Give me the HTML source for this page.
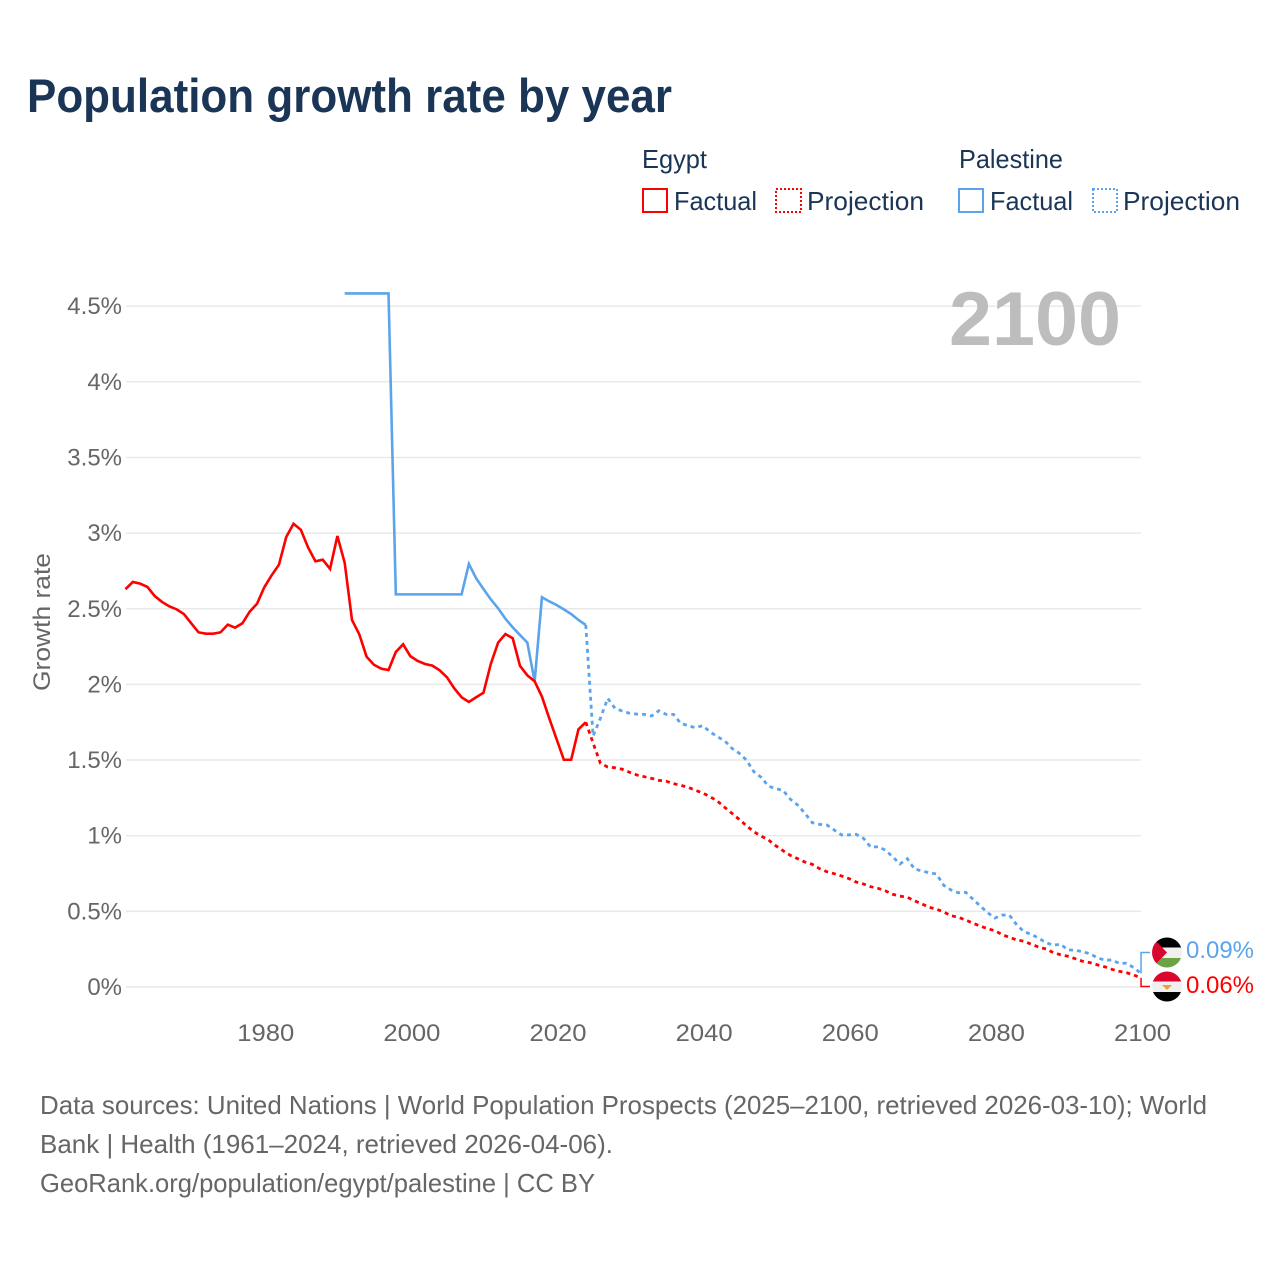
<!DOCTYPE html>
<html lang="en">
<head>
<meta charset="utf-8">
<title>Population growth rate by year</title>
<style>
  html, body { margin: 0; padding: 0; background: #fff; }
  svg { display: block; font-family: "Liberation Sans", sans-serif; }
  .tick { font-size: 24px; fill: #666; }
  .legend { font-size: 26px; fill: #1a3556; }
  .foot { font-size: 26px; fill: #666; }
</style>
</head>
<body>
<svg id="chart" width="1280" height="1280" viewBox="0 0 1280 1280" xmlns="http://www.w3.org/2000/svg">
  <rect x="0" y="0" width="1280" height="1280" fill="#fff"/>
  <text x="27" y="112" font-size="47" font-weight="700" fill="#1a3556" textLength="645" lengthAdjust="spacingAndGlyphs">Population growth rate by year</text>

  <g>
    <text class="legend" x="642" y="168" textLength="65" lengthAdjust="spacingAndGlyphs">Egypt</text>
    <text class="legend" x="959" y="168" textLength="104" lengthAdjust="spacingAndGlyphs">Palestine</text>
    <rect x="643" y="189" width="24" height="23" fill="none" stroke="#ff0000" stroke-width="2"/>
    <text class="legend" x="674" y="210" textLength="83" lengthAdjust="spacingAndGlyphs">Factual</text>
    <rect x="776" y="189" width="25" height="23" fill="none" stroke="#ff0000" stroke-width="2" stroke-dasharray="2,2"/>
    <text class="legend" x="807" y="210" textLength="117" lengthAdjust="spacingAndGlyphs">Projection</text>
    <rect x="959" y="189" width="24" height="23" fill="none" stroke="#5ba4ec" stroke-width="2"/>
    <text class="legend" x="990" y="210" textLength="83" lengthAdjust="spacingAndGlyphs">Factual</text>
    <rect x="1093" y="189" width="24" height="23" fill="none" stroke="#5ba4ec" stroke-width="2" stroke-dasharray="2,2"/>
    <text class="legend" x="1123" y="210" textLength="117" lengthAdjust="spacingAndGlyphs">Projection</text>
  </g>

  <g id="grid"></g>
  <g id="yTicks"></g>
  <g id="xTicks"></g>
  <text class="tick" x="0" y="0" transform="translate(50,622) rotate(-90)" text-anchor="middle" textLength="138" lengthAdjust="spacingAndGlyphs">Growth rate</text>
  <text id="yearLabel" x="1121" y="345" font-size="76" font-weight="700" fill="#bdbdbd" text-anchor="end" textLength="172" lengthAdjust="spacingAndGlyphs">2100</text>
  <g id="series"></g>

  <defs>
    <clipPath id="flagClipPs"><circle cx="1167" cy="952.5" r="15"/></clipPath>
    <clipPath id="flagClipEg"><circle cx="1167" cy="986.5" r="15"/></clipPath>
  </defs>
  <g id="endLabels">
    <g clip-path="url(#flagClipPs)">
      <rect x="1152" y="937" width="30" height="11" fill="#000"/>
      <rect x="1152" y="947.5" width="30" height="10.5" fill="#f0f0f0"/>
      <rect x="1152" y="958" width="30" height="10" fill="#6ca342"/>
      <polygon points="1152,937 1167,952.5 1152,968" fill="#d9072f"/>
    </g>
    <g clip-path="url(#flagClipEg)">
      <rect x="1152" y="971" width="30" height="11" fill="#d9072f"/>
      <rect x="1152" y="981.5" width="30" height="10.5" fill="#f0f0f0"/>
      <rect x="1152" y="992" width="30" height="10" fill="#000"/>
      <polygon points="1162,985 1172,985 1167,990" fill="#f0a030"/>
    </g>
    <text x="1186" y="958" font-size="24" fill="#5ba4ec" textLength="68" lengthAdjust="spacingAndGlyphs">0.09%</text>
    <text x="1186" y="993" font-size="24" fill="#ff0000" textLength="68" lengthAdjust="spacingAndGlyphs">0.06%</text>
  </g>

  <g>
    <text class="foot" x="40" y="1114" textLength="1167" lengthAdjust="spacingAndGlyphs">Data sources: United Nations | World Population Prospects (2025–2100, retrieved 2026-03-10); World</text>
    <text class="foot" x="40" y="1153" textLength="573" lengthAdjust="spacingAndGlyphs">Bank | Health (1961–2024, retrieved 2026-04-06).</text>
    <text class="foot" x="40" y="1192" textLength="555" lengthAdjust="spacingAndGlyphs">GeoRank.org/population/egypt/palestine | CC BY</text>
  </g>
</svg>
<script>
const yTickValues = [0, 0.5, 1, 1.5, 2, 2.5, 3, 3.5, 4, 4.5];
const xTickYears = [1980, 2000, 2020, 2040, 2060, 2080, 2100];
const egyptFactualStart = 1961;
const egyptFactual = [2.629,2.677,2.666,2.644,2.584,2.545,2.516,2.496,2.465,2.404,2.344,2.335,2.335,2.344,2.395,2.375,2.404,2.481,2.533,2.642,2.721,2.791,2.974,3.062,3.022,2.904,2.814,2.824,2.763,2.981,2.804,2.426,2.331,2.183,2.130,2.104,2.095,2.214,2.265,2.186,2.155,2.135,2.124,2.093,2.047,1.974,1.915,1.884,1.915,1.945,2.135,2.276,2.333,2.305,2.122,2.060,2.020,1.919,1.776,1.639,1.502,1.502,1.703,1.750];
const egyptProjectionStart = 2024;
const egyptProjection = [1.750,1.613,1.479,1.454,1.449,1.439,1.419,1.401,1.390,1.379,1.366,1.360,1.344,1.333,1.320,1.300,1.282,1.258,1.229,1.188,1.148,1.108,1.066,1.026,0.998,0.972,0.934,0.901,0.870,0.848,0.826,0.811,0.782,0.762,0.749,0.734,0.717,0.694,0.681,0.663,0.652,0.636,0.613,0.601,0.593,0.570,0.549,0.527,0.514,0.496,0.471,0.461,0.443,0.421,0.403,0.385,0.372,0.346,0.328,0.311,0.302,0.282,0.264,0.251,0.227,0.213,0.203,0.187,0.170,0.161,0.147,0.134,0.117,0.104,0.095,0.079,0.06];
const palestineFactualStart = 1991;
const palestineFactual = [4.584,4.584,4.584,4.584,4.584,4.584,4.584,2.595,2.595,2.595,2.595,2.595,2.595,2.595,2.595,2.595,2.595,2.796,2.701,2.630,2.562,2.503,2.434,2.377,2.326,2.276,2.020,2.576,2.549,2.525,2.496,2.465,2.426,2.393];
const palestineProjectionStart = 2024;
const palestineProjection = [2.393,1.659,1.776,1.908,1.842,1.824,1.809,1.804,1.802,1.791,1.826,1.802,1.802,1.743,1.727,1.714,1.727,1.687,1.654,1.628,1.578,1.545,1.500,1.423,1.386,1.328,1.311,1.300,1.241,1.203,1.148,1.086,1.075,1.071,1.038,1.005,1.005,1.009,0.983,0.925,0.927,0.905,0.861,0.813,0.848,0.780,0.767,0.755,0.747,0.672,0.641,0.623,0.626,0.580,0.535,0.491,0.456,0.476,0.474,0.410,0.365,0.348,0.322,0.293,0.276,0.282,0.245,0.243,0.233,0.220,0.194,0.178,0.178,0.157,0.157,0.128,0.09];

const NS = 'http://www.w3.org/2000/svg';
const xScale = function (year) { return 125.5 + (year - 1961) * 7.306; };
const yScale = function (value) { return 987 - value * 151.3; };

function make(tag, parent) {
  const el = document.createElementNS(NS, tag);
  parent.appendChild(el);
  return el;
}

const gridGroup = document.getElementById('grid');
const yTickGroup = document.getElementById('yTicks');
yTickValues.forEach(function (v) {
  const line = make('line', gridGroup);
  
  
  line.setAttribute('x1', 126);
  line.setAttribute('x2', 1141);
  line.setAttribute('y1', yScale(v));
  line.setAttribute('y2', yScale(v));
  line.setAttribute('stroke', '#e9e9e9');
  line.setAttribute('stroke-width', 1.5);

  const label = make('text', yTickGroup);
  
  
  label.setAttribute('class', 'tick');
  label.setAttribute('x', 122);
  label.setAttribute('y', yScale(v) + 8);
  label.setAttribute('text-anchor', 'end');
  label.textContent = v + '%';
});

const xTickGroup = document.getElementById('xTicks');
xTickYears.forEach(function (year) {
  const label = make('text', xTickGroup);
  
  
  label.setAttribute('class', 'tick');
  label.setAttribute('x', xScale(year) - 27);
  label.setAttribute('y', 1041);
  label.setAttribute('textLength', 57);
  label.setAttribute('lengthAdjust', 'spacingAndGlyphs');
  label.textContent = year;
});

function linePath(startYear, values) {
  return values.map(function (v, i) {
    return (i ? 'L' : 'M') + xScale(startYear + i).toFixed(2) + ' ' + yScale(v).toFixed(2);
  }).join(' ');
}

const seriesGroup = document.getElementById('series');

const pathPalestineProjection = make('path', seriesGroup);


pathPalestineProjection.setAttribute('d', linePath(palestineProjectionStart, palestineProjection));
pathPalestineProjection.setAttribute('fill', 'none');
pathPalestineProjection.setAttribute('stroke', '#5ba4ec');
pathPalestineProjection.setAttribute('stroke-width', 2.8);
pathPalestineProjection.setAttribute('stroke-dasharray', '4,4');

const pathPalestineFactual = make('path', seriesGroup);


pathPalestineFactual.setAttribute('d', linePath(palestineFactualStart, palestineFactual));
pathPalestineFactual.setAttribute('fill', 'none');
pathPalestineFactual.setAttribute('stroke', '#5ba4ec');
pathPalestineFactual.setAttribute('stroke-width', 2.6);

const pathEgyptProjection = make('path', seriesGroup);


pathEgyptProjection.setAttribute('d', linePath(egyptProjectionStart, egyptProjection));
pathEgyptProjection.setAttribute('fill', 'none');
pathEgyptProjection.setAttribute('stroke', '#ff0000');
pathEgyptProjection.setAttribute('stroke-width', 2.8);
pathEgyptProjection.setAttribute('stroke-dasharray', '4,4');

const pathEgyptFactual = make('path', seriesGroup);


pathEgyptFactual.setAttribute('d', linePath(egyptFactualStart, egyptFactual));
pathEgyptFactual.setAttribute('fill', 'none');
pathEgyptFactual.setAttribute('stroke', '#ff0000');
pathEgyptFactual.setAttribute('stroke-width', 2.6);

const endLabels = document.getElementById('endLabels');
const xEnd = xScale(2100);

const connectorPalestine = make('path', endLabels);


connectorPalestine.setAttribute('d', 'M' + xEnd + ' ' + yScale(palestineProjection[palestineProjection.length - 1]) + ' V952.5 H1150');
connectorPalestine.setAttribute('fill', 'none');
connectorPalestine.setAttribute('stroke', '#5ba4ec');
connectorPalestine.setAttribute('stroke-width', 1.5);

const connectorEgypt = make('path', endLabels);


connectorEgypt.setAttribute('d', 'M' + xEnd + ' ' + yScale(egyptProjection[egyptProjection.length - 1]) + ' V986.5 H1150');
connectorEgypt.setAttribute('fill', 'none');
connectorEgypt.setAttribute('stroke', '#ff0000');
connectorEgypt.setAttribute('stroke-width', 1.5);
</script>
</body>
</html>
